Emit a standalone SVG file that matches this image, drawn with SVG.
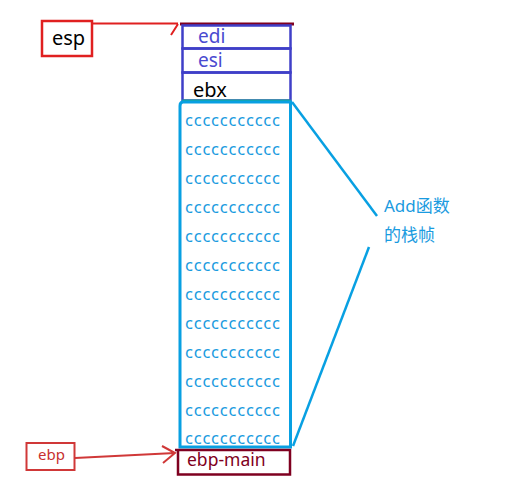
<svg xmlns="http://www.w3.org/2000/svg" width="514" height="477" viewBox="0 0 514 477">
<style>
.t{font-family:"Noto Sans","Liberation Sans","Noto Sans CJK SC",sans-serif}
.c{font-size:16.5px;fill:#1a9be0}
.reg{font-size:20px}
.blue{fill:#4a4ad0;font-size:19px}
.cy{fill:none;stroke:#08a0e2;stroke-width:3}
</style>
<rect width="514" height="477" fill="#fff"/>
<g id="esp">
<rect x="42" y="21" width="50" height="35" fill="none" stroke="#e02020" stroke-width="2.5"/>
<text class="t reg" x="52" y="45" fill="#000">esp</text>
</g>
<g id="edi">
<line x1="180" y1="24" x2="294" y2="24" stroke="#7f0020" stroke-width="3"/>
<rect x="182.5" y="25.5" width="108" height="23" fill="none" stroke="#3f3fc8" stroke-width="2.5"/>
<text class="t blue" x="198" y="43">edi</text>
</g>
<g id="esi">
<rect x="182.5" y="48.5" width="108" height="24" fill="none" stroke="#3f3fc8" stroke-width="2.5"/>
<text class="t blue" x="198" y="67">esi</text>
</g>
<g id="ebx">
<rect x="182.5" y="72.5" width="108" height="28" fill="none" stroke="#3f3fc8" stroke-width="2.5"/>
<line x1="182" y1="100.5" x2="291" y2="100.5" stroke="#1aa88a" stroke-width="2"/>
<text class="t reg" x="193" y="97" fill="#000">ebx</text>
</g>
<g id="add-frame">
<path class="cy" d="M183 102 L290.5 102 L290.5 447 L180 447 L180 106 Q180 102 183 102 Z"/>
<text class="t c" x="185" y="126" textLength="95" lengthAdjust="spacing">ccccccccccc</text>
<text class="t c" x="185" y="155" textLength="95" lengthAdjust="spacing">ccccccccccc</text>
<text class="t c" x="185" y="184" textLength="95" lengthAdjust="spacing">ccccccccccc</text>
<text class="t c" x="185" y="213" textLength="95" lengthAdjust="spacing">ccccccccccc</text>
<text class="t c" x="185" y="242" textLength="95" lengthAdjust="spacing">ccccccccccc</text>
<text class="t c" x="185" y="271" textLength="95" lengthAdjust="spacing">ccccccccccc</text>
<text class="t c" x="185" y="300" textLength="95" lengthAdjust="spacing">ccccccccccc</text>
<text class="t c" x="185" y="329" textLength="95" lengthAdjust="spacing">ccccccccccc</text>
<text class="t c" x="185" y="358" textLength="95" lengthAdjust="spacing">ccccccccccc</text>
<text class="t c" x="185" y="387" textLength="95" lengthAdjust="spacing">ccccccccccc</text>
<text class="t c" x="185" y="416" textLength="95" lengthAdjust="spacing">ccccccccccc</text>
<text class="t c" x="185" y="444" textLength="95" lengthAdjust="spacing">ccccccccccc</text>
</g>
<g id="ebp-main">
<path d="M175 450 L290 450 L290 474.5 L178 474.5 L178 450" fill="none" stroke="#7f0020" stroke-width="2.5"/>
<text class="t" x="187" y="466" font-size="17.5" fill="#7f0020">ebp-main</text>
</g>
<g id="ebp">
<rect x="26.5" y="443" width="48" height="27" fill="none" stroke="#d03838" stroke-width="2"/>
<text class="t" x="38" y="460" font-size="15" fill="#c83030">ebp</text>
</g>
<g id="label">
<text class="t" x="384" y="212" font-size="17" fill="#1a9be0">Add函数</text>
<text class="t" x="384" y="241" font-size="17" fill="#1a9be0">的栈帧</text>
</g>
<g id="connectors" fill="none">
<path d="M92 23.5 L178 23.5 M178 24 L171 35" stroke="#e02020" stroke-width="2"/>
<path d="M75 458 L175 453 M162 446 L175 453 L163 463" stroke="#d03838" stroke-width="2"/>
<path d="M292 102 L377 216" stroke="#08a0e2" stroke-width="2.5"/>
<path d="M369 247 L293 446" stroke="#08a0e2" stroke-width="2.5"/>
</g>
</svg>
